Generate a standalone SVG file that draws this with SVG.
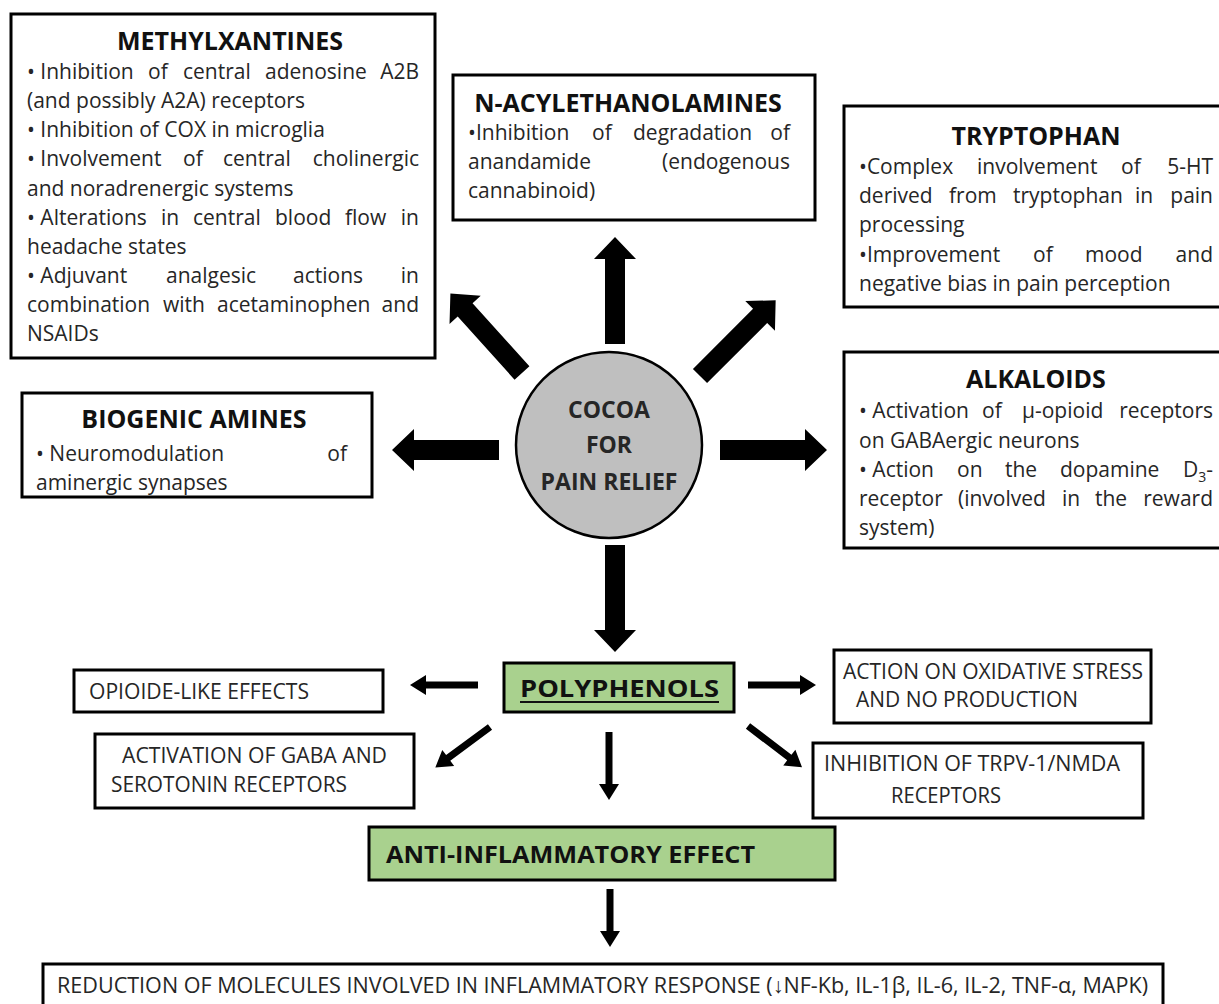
<svg xmlns="http://www.w3.org/2000/svg" xmlns:xlink="http://www.w3.org/1999/xlink" width="1219" height="1004" viewBox="0 0 1219 1004">
<style>
.box{fill:#fff;stroke:#000;stroke-width:3}
.green{fill:#a9d18e;stroke:#000;stroke-width:3}
.t{font-family:'Open Sans','Liberation Sans',sans-serif;font-size:21px;fill:#262626}
.e{text-anchor:end}
.h{font-family:'Open Sans','Liberation Sans',sans-serif;font-weight:700;font-size:25px;fill:#111;text-anchor:middle}
.c{font-family:'Open Sans','Liberation Sans',sans-serif;font-weight:700;font-size:23px;fill:#262626;text-anchor:middle}
.l{font-family:'Open Sans','Liberation Sans',sans-serif;font-size:21px;fill:#262626}
.lb{font-family:'Open Sans','Liberation Sans',sans-serif;font-weight:700;font-size:24px;fill:#111}
.arr{fill:#000}
</style>
<defs>
<polygon id="bigArrow" points="0,-10 85,-10 85,-21 107,0 85,21 85,10 0,10"/>
<polygon id="smallArrow" points="0,-3.5 52,-3.5 52,-10 68,0 52,10 52,3.5 0,3.5"/>
</defs>
<rect width="1219" height="1004" fill="#fff"/>

<g id="connectors" class="arr">
<use xlink:href="#bigArrow" transform="translate(615,344) rotate(-90)"/>
<use xlink:href="#bigArrow" transform="translate(615,545) rotate(90)"/>
<use xlink:href="#bigArrow" transform="translate(499,450) rotate(180)"/>
<use xlink:href="#bigArrow" transform="translate(720,450)"/>
<use xlink:href="#bigArrow" transform="translate(522,373) rotate(-132)"/>
<use xlink:href="#bigArrow" transform="translate(700,376) rotate(-45)"/>
<use xlink:href="#smallArrow" transform="translate(478,685) rotate(180)"/>
<use xlink:href="#smallArrow" transform="translate(748,685)"/>
<use xlink:href="#smallArrow" transform="translate(490,727) rotate(143.5)"/>
<use xlink:href="#smallArrow" transform="translate(609,732) rotate(90)"/>
<use xlink:href="#smallArrow" transform="translate(748,726) rotate(37.4)"/>
<polygon points="606.5,889 613.5,889 613.5,931 620,931 610,947 600,931 606.5,931"/>
</g>

<g id="methylxantines">
<rect class="box" x="11" y="14" width="424" height="344"/>
<text class="h" x="230" y="50">METHYLXANTINES</text>
<text class="t" y="79"><tspan x="27">• Inhibition</tspan><tspan x="148">of</tspan><tspan x="183">central</tspan><tspan x="265">adenosine</tspan></text>
<text class="t e" x="419" y="79">A2B</text>
<text class="t" x="27" y="108">(and possibly A2A) receptors</text>
<text class="t" x="27" y="137">• Inhibition of COX in microglia</text>
<text class="t" y="166"><tspan x="27">• Involvement</tspan><tspan x="183">of</tspan><tspan x="223">central</tspan></text>
<text class="t e" x="419" y="166">cholinergic</text>
<text class="t" x="27" y="196">and noradrenergic systems</text>
<text class="t" y="225"><tspan x="27">• Alterations</tspan><tspan x="161">in</tspan><tspan x="193">central</tspan><tspan x="275">blood</tspan><tspan x="345">flow</tspan></text>
<text class="t e" x="419" y="225">in</text>
<text class="t" x="27" y="254">headache states</text>
<text class="t" y="283"><tspan x="27">• Adjuvant</tspan><tspan x="166">analgesic</tspan><tspan x="293">actions</tspan></text>
<text class="t e" x="419" y="283">in</text>
<text class="t" y="312"><tspan x="27">combination</tspan><tspan x="163">with</tspan><tspan x="217">acetaminophen</tspan></text>
<text class="t e" x="419" y="312">and</text>
<text class="t" x="27" y="341">NSAIDs</text>
</g>

<g id="n-acylethanolamines">
<rect class="box" x="453" y="75" width="362" height="145"/>
<text class="h" x="628" y="112">N-ACYLETHANOLAMINES</text>
<text class="t" y="140"><tspan x="468">•Inhibition</tspan><tspan x="592">of</tspan><tspan x="633">degradation</tspan></text>
<text class="t e" x="790" y="140">of</text>
<text class="t" x="468" y="169">anandamide</text>
<text class="t e" x="790" y="169">(endogenous</text>
<text class="t" x="468" y="198">cannabinoid)</text>
</g>

<g id="tryptophan">
<rect class="box" x="844" y="106" width="385" height="201"/>
<text class="h" x="1036" y="145">TRYPTOPHAN</text>
<text class="t" y="174"><tspan x="859">•Complex</tspan><tspan x="977">involvement</tspan><tspan x="1121">of</tspan></text>
<text class="t e" x="1213" y="174">5-HT</text>
<text class="t" y="203"><tspan x="859">derived</tspan><tspan x="949">from</tspan><tspan x="1013">tryptophan</tspan><tspan x="1135">in</tspan></text>
<text class="t e" x="1213" y="203">pain</text>
<text class="t" x="859" y="232">processing</text>
<text class="t" y="262"><tspan x="859">•Improvement</tspan><tspan x="1033">of</tspan><tspan x="1085">mood</tspan></text>
<text class="t e" x="1213" y="262">and</text>
<text class="t" x="859" y="291">negative bias in pain perception</text>
</g>

<g id="alkaloids">
<rect class="box" x="844" y="352" width="385" height="196"/>
<text class="h" x="1036" y="388">ALKALOIDS</text>
<text class="t" y="418"><tspan x="859">• Activation</tspan><tspan x="982">of</tspan><tspan x="1022">µ-opioid</tspan></text>
<text class="t e" x="1213" y="418">receptors</text>
<text class="t" x="859" y="448">on GABAergic neurons</text>
<text class="t" y="477"><tspan x="859">• Action</tspan><tspan x="957">on</tspan><tspan x="1005">the</tspan><tspan x="1060">dopamine</tspan></text>
<text class="t e" x="1213" y="477">D<tspan font-size="14" dy="5">3</tspan><tspan dy="-5">-</tspan></text>
<text class="t" y="506"><tspan x="859">receptor</tspan><tspan x="958">(involved</tspan><tspan x="1062">in</tspan><tspan x="1095">the</tspan></text>
<text class="t e" x="1213" y="506">reward</text>
<text class="t" x="859" y="535">system)</text>
</g>

<g id="biogenic-amines">
<rect class="box" x="22" y="393" width="350" height="104"/>
<text class="h" x="194" y="428">BIOGENIC AMINES</text>
<text class="t" x="36" y="461">• Neuromodulation</text>
<text class="t e" x="347" y="461">of</text>
<text class="t" x="36" y="490">aminergic synapses</text>
</g>

<g id="cocoa">
<circle cx="609" cy="445" r="93" fill="#bfbfbf" stroke="#000" stroke-width="2.5"/>
<text class="c" x="609" y="418">COCOA</text>
<text class="c" x="609" y="453">FOR</text>
<text class="c" x="609" y="490">PAIN RELIEF</text>
</g>

<g id="polyphenols">
<rect class="green" x="504" y="663" width="230" height="49"/>
<text class="lb" x="520" y="697" textLength="199" lengthAdjust="spacingAndGlyphs" font-size="26">POLYPHENOLS</text>
<line x1="520" y1="702" x2="719" y2="702" stroke="#111" stroke-width="2"/>
</g>

<g id="opioide-like">
<rect class="box" x="74" y="670" width="309" height="42"/>
<text class="l" x="89" y="699" textLength="220" lengthAdjust="spacingAndGlyphs">OPIOIDE-LIKE EFFECTS</text>
</g>

<g id="gaba-serotonin">
<rect class="box" x="95" y="734" width="319" height="74"/>
<text class="l" x="122" y="763" textLength="265" lengthAdjust="spacingAndGlyphs">ACTIVATION OF GABA AND</text>
<text class="l" x="111" y="792" textLength="236" lengthAdjust="spacingAndGlyphs">SEROTONIN RECEPTORS</text>
</g>

<g id="oxidative-stress">
<rect class="box" x="834" y="650" width="317" height="73"/>
<text class="l" x="843" y="679" textLength="300" lengthAdjust="spacingAndGlyphs">ACTION ON OXIDATIVE STRESS</text>
<text class="l" x="856" y="707" textLength="222" lengthAdjust="spacingAndGlyphs">AND NO PRODUCTION</text>
</g>

<g id="trpv-nmda">
<rect class="box" x="813" y="743" width="330" height="75"/>
<text class="l" x="824" y="771" textLength="296" lengthAdjust="spacingAndGlyphs">INHIBITION OF TRPV-1/NMDA</text>
<text class="l" x="891" y="803" textLength="110" lengthAdjust="spacingAndGlyphs">RECEPTORS</text>
</g>

<g id="anti-inflammatory">
<rect class="green" x="369" y="827" width="466" height="53"/>
<text class="lb" x="386" y="863" textLength="369" lengthAdjust="spacingAndGlyphs">ANTI-INFLAMMATORY EFFECT</text>
</g>

<g id="reduction">
<rect class="box" x="43" y="964" width="1120" height="50"/>
<text class="l" x="57" y="993" textLength="1091" lengthAdjust="spacingAndGlyphs">REDUCTION OF MOLECULES INVOLVED IN INFLAMMATORY RESPONSE (↓NF-Kb, IL-1β, IL-6, IL-2, TNF-α, MAPK)</text>
</g>
</svg>
